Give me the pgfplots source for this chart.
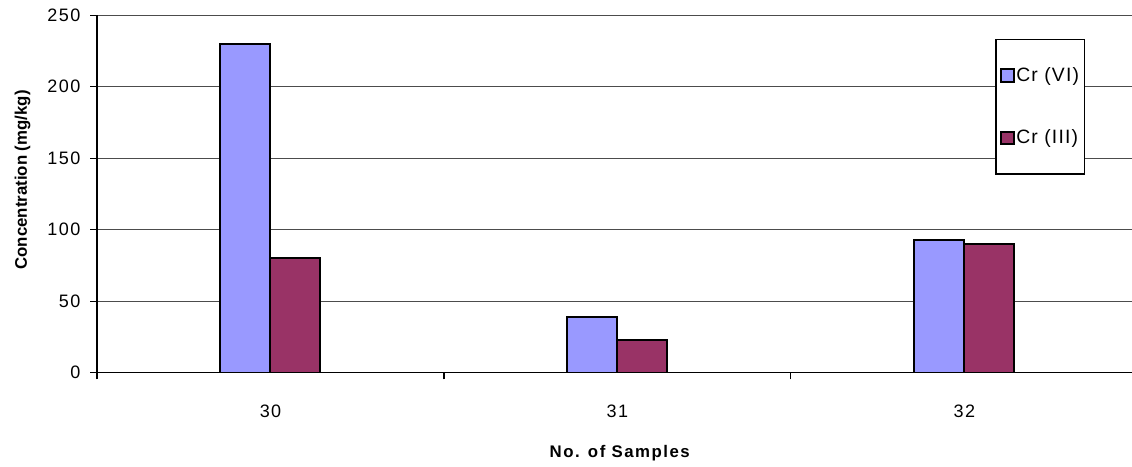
\documentclass[border=0pt]{standalone}
\usepackage{fontspec}
\setmainfont{Liberation Sans}
\usepackage{pgfplots}
\pgfplotsset{compat=1.18}
\definecolor{crvi}{HTML}{9999FF}
\definecolor{criii}{HTML}{993366}
\begin{document}
\begin{tikzpicture}
\begin{axis}[
  name=ax, at={(0,0)}, anchor=south west,
  scale only axis, width=776.25pt, height=268.1pt,
  ybar=0pt, bar width=37.5pt,
  xmin=-0.5, xmax=2.483, ymin=0, ymax=250,
  ytick={0,50,...,250},
  xtick={0,1,2}, xticklabels={30,31,32},
  minor xtick={-0.5,0.5,1.5},
  axis lines=left, axis line style={-, black, line width=0.8pt},
  x axis line style={line width=1.2pt},
  tick align=outside, major tick length=5pt, minor tick length=5pt,
  major x tick style={draw=none},
  tick style={black, line width=0.8pt},
  ymajorgrids, major grid style={black!70, line width=0.75pt},
  /pgf/number format/assume math mode=true,
  ticklabel style={font=\fontsize{13.5}{16}\selectfont\addfontfeatures{LetterSpace=8}},
  y tick label style={xshift=-4pt},
  x tick label style={yshift=-15.5pt},
  ylabel={Concentration (mg/kg)},
  ylabel style={at={(axis description cs:-0.072,0.539)}, anchor=center, font=\bfseries\fontsize{12.6}{15}\selectfont},
  xlabel={No. of Samples},
  xlabel style={at={(axis description cs:0.505,0)}, anchor=north, yshift=-51.3pt, font=\bfseries\fontsize{12.6}{15}\selectfont\addfontfeatures{LetterSpace=9}},
  legend style={at={(rel axis cs:0.868,0.9326)}, anchor=north west, draw=black, line width=0.9pt, fill=white,
    font=\fontsize{14.5}{17}\selectfont\addfontfeatures{LetterSpace=6}, inner xsep=3pt, inner ysep=20pt, row sep=32.5pt,
    nodes={inner sep=1pt}},
  legend cell align=left,
  legend image code/.code={\draw[#1] (0pt,-4.8pt) rectangle (9.75pt,4.8pt);},
]
\addplot[fill=crvi, draw=black, line width=1.5pt] coordinates {(0,230) (1,39) (2,93)};
\addplot[fill=criii, draw=black, line width=1.5pt] coordinates {(0,80) (1,23) (2,90)};
\legend{Cr (VI)\hspace{6pt}, Cr (III)\hspace{6pt}}
\end{axis}
\pgfresetboundingbox
\path[use as bounding box] ([shift={(-72.75pt,-70.7pt)}]ax.south west) rectangle ([shift={(0pt,11.4pt)}]ax.north east);
\end{tikzpicture}
\end{document}
